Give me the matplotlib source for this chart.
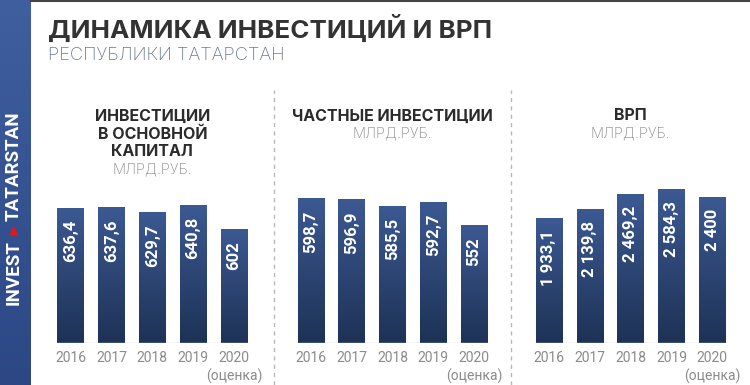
import numpy as np
import matplotlib.pyplot as plt
from matplotlib.colors import LinearSegmentedColormap
from matplotlib.lines import Line2D
from matplotlib.transforms import offset_copy

W, H = 750, 385

years = ["2016", "2017", "2018", "2019", "2020\n(оценка)"]

invest = [636.4, 637.6, 629.7, 640.8, 602]
invest_txt = ["636,4", "637,6", "629,7", "640,8", "602"]

private = [598.7, 596.9, 585.5, 592.7, 552]
private_txt = ["598,7", "596,9", "585,5", "592,7", "552"]

grp = [1933.1, 2139.8, 2469.2, 2584.3, 2400]
grp_txt = ["1 933,1", "2 139,8", "2 469,2", "2 584,3", "2 400"]

headers = ["ИНВЕСТИЦИИ\nВ ОСНОВНОЙ\nКАПИТАЛ", "ЧАСТНЫЕ ИНВЕСТИЦИИ", "ВРП"]
unit = "МЛРД.РУБ."

# infographic style: axes don't start at zero
ylims = [(415, 682), (350, 630), (-910, 2789)]
lefts = [50.3, 290.5, 528.6]   # px

bar_cmap = LinearSegmentedColormap.from_list("bars", ["#1d3255", "#3c5993"])
strip_cmap = LinearSegmentedColormap.from_list("strip", ["#2c4784", "#3f5f9f"])


def px(x, y):
    return x / W, 1 - y / H


fig = plt.figure(figsize=(W / 100, H / 100), dpi=100)
fig.patch.set_facecolor("white")

# left strip
sax = fig.add_axes([0, 0, 31 / W, 1])
sax.imshow(np.linspace(0, 1, 256).reshape(-1, 1)[::-1], aspect="auto", cmap=strip_cmap,
           extent=[0, 1, 0, 1])
sax.axis("off")
fig.text(*px(14, 166), "TATARSTAN", rotation=90, ha="center", va="center",
         color="white", fontsize=13.5, fontweight="bold", family="Roboto")
fig.text(*px(14, 273), "INVEST", rotation=90, ha="center", va="center",
         color="white", fontsize=13.5, fontweight="bold", family="Roboto")
fig.text(*px(14, 230), "▲", ha="center", va="center", color="#e3161b",
         fontsize=9, family="DejaVu Sans")

fig.add_artist(Line2D([31 / W, 1], [1 - 1 / H] * 2, color="#444444", lw=1.5))

# title
fig.text(*px(48, 29), "ДИНАМИКА ИНВЕСТИЦИЙ И ВРП", ha="left", va="center",
         color="#333333", fontsize=18.7, fontweight="bold", family="Inter")
fig.text(*px(48, 56), "РЕСПУБЛИКИ ТАТАРСТАН", ha="left", va="center",
         color="#6d7b90", fontsize=13.1, fontweight="light", family="Inter")

# dotted separators
for xs in (274, 511):
    fig.add_artist(Line2D([xs / W] * 2, [0, 1 - 90 / H], color="#b8b8b8", lw=1,
                          ls=(0, (3, 3))))

data = [(invest, invest_txt), (private, private_txt), (grp, grp_txt)]

for i, (vals, txt) in enumerate(data):
    ax = fig.add_axes([lefts[i] / W, 1 - 343 / H, 204 / W, 163 / H])
    lo, hi = ylims[i]
    x = np.arange(len(vals))
    heights = [v - lo for v in vals]
    bars = ax.bar(x, heights, bottom=lo, width=0.65, color="none", edgecolor="none")
    grad = np.linspace(0, 1, 256).reshape(-1, 1)[::-1]
    for b in bars:
        im = ax.imshow(grad, aspect="auto", cmap=bar_cmap, zorder=2,
                       extent=[b.get_x(), b.get_x() + b.get_width(), lo, lo + b.get_height()])
        im.set_clip_path(b)
    ax.hlines(lo, -0.36, len(vals) - 1 + 0.36, color="#c8c8c8", lw=1, zorder=3)
    tr = offset_copy(ax.transData, fig=fig, x=0, y=-12, units="dots")
    for xi, v, t in zip(x, vals, txt):
        ax.text(xi, v, t, transform=tr, rotation=90, ha="center", va="top",
                color="white", fontsize=12, fontweight="bold", family="Roboto", zorder=4)
    ax.set_xlim(-0.5, len(vals) - 0.5)
    ax.set_ylim(lo, hi)
    ax.set_xticks(x, years)
    ax.tick_params(axis="x", length=0, pad=6, labelsize=10, labelcolor="#8a8a8a")
    for lab in ax.get_xticklabels():
        lab.set_family("Roboto")
        lab.set_linespacing(1.25)
    ax.set_yticks([])
    for s in ax.spines.values():
        s.set_visible(False)
    ax.patch.set_alpha(0)

    cx = lefts[i] + 102
    lines = headers[i].split("\n")
    y0 = 116
    for k, line in enumerate(lines):
        fig.text(*px(cx, y0 + 18 * k), line, ha="center", va="center", color="#2b2b2b",
                 fontsize=11.5, fontweight="bold", family="Inter")
    fig.text(*px(cx, y0 + 18 * len(lines)), unit, ha="center", va="center",
             color="#8a8a8a", fontsize=10.5, fontweight="light", family="Inter")

fig.savefig("out.png", dpi=100)
